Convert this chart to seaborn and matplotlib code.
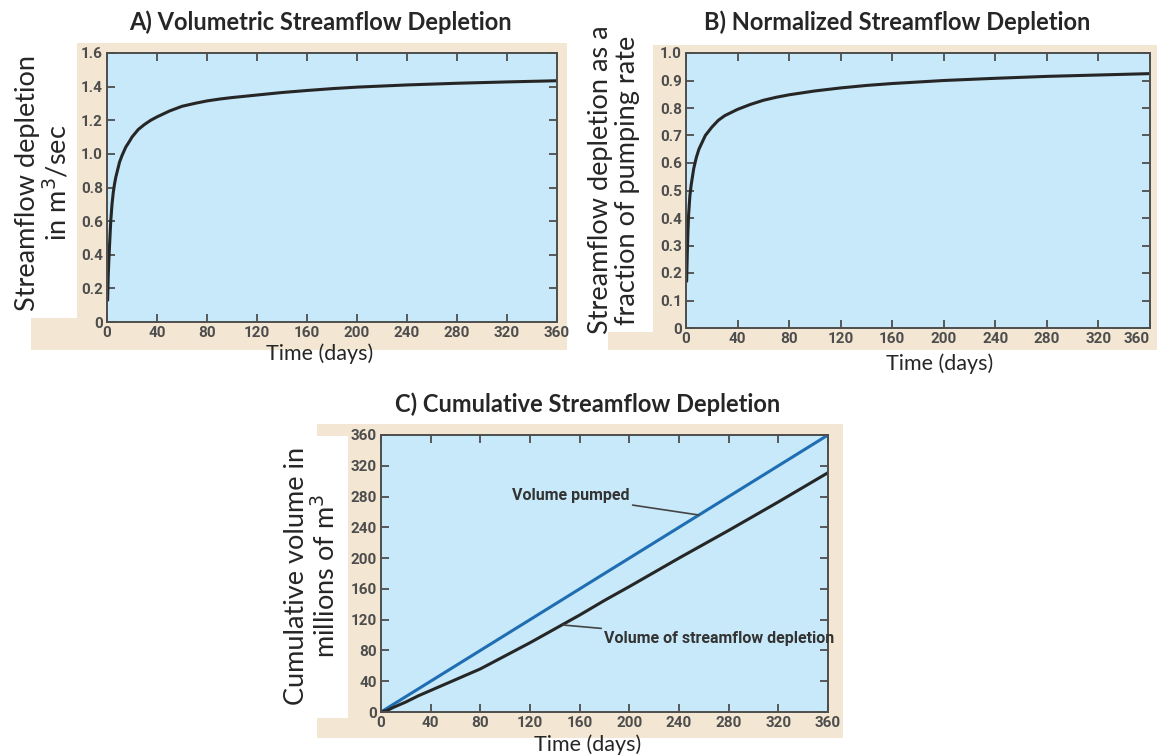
import numpy as np
import pandas as pd
import matplotlib
matplotlib.use('Agg')
import matplotlib.pyplot as plt
from matplotlib.patches import Rectangle
import seaborn as sns

# values
days_a = [0.5, 1, 1.5, 2, 3, 4, 5, 6, 7, 8, 10, 12, 15, 18, 20, 25, 30, 35, 40, 50, 60, 70,
          80, 90, 100, 120, 140, 160, 180, 200, 240, 280, 320, 360]
depletion_a = [0.13, 0.28, 0.37, 0.45, 0.6, 0.7, 0.77, 0.82, 0.86, 0.89, 0.95, 0.99, 1.04,
               1.075, 1.10, 1.145, 1.175, 1.20, 1.22, 1.255, 1.283, 1.30, 1.315, 1.326, 1.335,
               1.35, 1.365, 1.377, 1.388, 1.397, 1.41, 1.42, 1.428, 1.435]

days_b = [0.5, 1, 1.5, 2, 3, 4, 5, 6, 8, 10, 12, 15, 20, 25, 30, 40, 50, 60, 70, 80, 100,
          120, 140, 160, 200, 240, 280, 320, 360]
fraction_b = [0.17, 0.27, 0.35, 0.41, 0.48, 0.52, 0.55, 0.58, 0.62, 0.65, 0.67, 0.70, 0.73,
              0.755, 0.772, 0.795, 0.813, 0.828, 0.839, 0.848, 0.862, 0.873, 0.882, 0.889, 0.90,
              0.908, 0.915, 0.92, 0.925]

days_c = [0, 360]
pumped_c = [0, 360]
days_d = [0, 5, 10, 20, 30, 40, 50, 60, 70, 80, 100, 120, 140, 160, 180, 200, 240, 280,
          320, 360]
depleted_d = [0, 2, 6, 13, 21, 28, 35, 42, 49, 56, 73, 90, 108, 126, 145, 163, 200, 236,
              273, 311]

W, H = 1157, 755
BEIGE = '#f3e7d3'
BLUE_BG = '#c7e9f9'
TICK_COL = '#4d4d4d'
CURVE = '#262626'
BLUE = '#1f6db3'

sns.set_style('ticks')
plt.rcParams['font.family'] = ['Lato', 'DejaVu Sans']
TICK_FONT = ['Roboto', 'DejaVu Sans']

fig = plt.figure(figsize=(W / 100, H / 100), dpi=100)
fig.patch.set_facecolor('white')


def box(x0, y0, x1, y1, color):
    fig.patches.append(Rectangle((x0 / W, 1 - y1 / H), (x1 - x0) / W, (y1 - y0) / H,
                                 transform=fig.transFigure, facecolor=color,
                                 edgecolor='none', zorder=-10))


def add_ax(x0, y0, x1, y1):
    ax = fig.add_axes([x0 / W, 1 - y1 / H, (x1 - x0) / W, (y1 - y0) / H])
    ax.set_zorder(5)
    ax.set_facecolor(BLUE_BG)
    for s in ax.spines.values():
        s.set_color(TICK_COL)
        s.set_linewidth(1.4)
    ax.tick_params(direction='in', top=True, right=True, length=6, width=1.3,
                   color=TICK_COL, labelcolor=TICK_COL, pad=3)
    return ax


def style_ticks(ax):
    for lab in ax.get_xticklabels() + ax.get_yticklabels():
        lab.set_family(TICK_FONT)
        lab.set_fontweight('bold')
        lab.set_fontsize(11)


def ftext(x, y, s, **kw):
    fig.text(x / W, 1 - y / H, s, ha='center', va='center', **kw)


line_kw = dict(color=CURVE, lw=2.2, solid_joinstyle='round', solid_capstyle='round')

# backgrounds
box(31, 43, 567, 350, BEIGE)
box(0, 43, 77, 318, 'white')
box(608, 45, 1157, 350, BEIGE)
box(580, 30, 653, 332, 'white')
box(317, 424, 843, 738, BEIGE)
box(270, 436, 348, 718, 'white')

# A) volumetric depletion
ax_a = add_ax(107, 53, 557, 322)
df_a = pd.DataFrame({'day': days_a, 'q': depletion_a})
sns.lineplot(data=df_a, x='day', y='q', ax=ax_a, **line_kw)
ax_a.set_xlim(0, 360)
ax_a.set_ylim(0, 1.6)
ax_a.set_xticks(np.arange(0, 361, 40))
ax_a.set_yticks([0, 0.2, 0.4, 0.6, 0.8, 1.0, 1.2, 1.4, 1.6])
ax_a.set_yticklabels(['0', '0.2', '0.4', '0.6', '0.8', '1.0', '1.2', '1.4', '1.6'])
ax_a.set_xlabel('')
ax_a.set_ylabel('')
style_ticks(ax_a)

# B) normalized depletion
ax_b = add_ax(686, 53, 1150, 328)
df_b = pd.DataFrame({'day': days_b, 'f': fraction_b})
sns.lineplot(data=df_b, x='day', y='f', ax=ax_b, **line_kw)
ax_b.set_xlim(0, 360)
ax_b.set_ylim(0, 1.0)
ax_b.set_xticks(np.arange(0, 361, 40))
ax_b.set_yticks(np.arange(0, 1.01, 0.1))
ax_b.set_yticklabels(['0', '0.1', '0.2', '0.3', '0.4', '0.5', '0.6', '0.7', '0.8', '0.9', '1.0'])
ax_b.set_xlabel('')
ax_b.set_ylabel('')
style_ticks(ax_b)
ax_b.get_xticklabels()[-1].set_horizontalalignment('right')

# C) cumulative depletion
ax_c = add_ax(381, 435, 828, 712)
df_c = pd.DataFrame({'day': days_c, 'v': pumped_c})
df_d = pd.DataFrame({'day': days_d, 'v': depleted_d})
sns.lineplot(data=df_c, x='day', y='v', ax=ax_c, color=BLUE, lw=2.2)
sns.lineplot(data=df_d, x='day', y='v', ax=ax_c, **line_kw)
ax_c.set_xlim(0, 360)
ax_c.set_ylim(0, 360)
ax_c.set_xticks(np.arange(0, 361, 40))
ax_c.set_yticks(np.arange(0, 361, 40))
ax_c.set_xlabel('')
ax_c.set_ylabel('')
style_ticks(ax_c)

ann = dict(family=TICK_FONT, fontweight='bold', fontsize=11.5, color='#333333')
ax_c.annotate('Volume pumped', xy=(256, 256), xytext=(200, 281), ha='right', va='center',
              arrowprops=dict(arrowstyle='-', color='#444444', lw=1.2,
                              shrinkA=0, shrinkB=0), **ann)
ax_c.annotate('Volume of streamflow depletion', xy=(147, 113), xytext=(180, 95), ha='left',
              va='center', arrowprops=dict(arrowstyle='-', color='#444444', lw=1.2,
                                           shrinkA=0, shrinkB=0), **ann)

# titles and labels
ftext(320, 22, 'A) Volumetric Streamflow Depletion', fontsize=17, fontweight='bold')
ftext(897, 22, 'B) Normalized Streamflow Depletion', fontsize=17, fontweight='bold')
ftext(588, 404, 'C) Cumulative Streamflow Depletion', fontsize=17, fontweight='bold')

ftext(320, 354, 'Time (days)', fontsize=15.5)
ftext(940, 364, 'Time (days)', fontsize=15.5)
ftext(588, 745, 'Time (days)', fontsize=15.5)

ftext(43, 183, 'Streamflow depletion\nin m$^3$/sec', fontsize=19.5, rotation=90,
      linespacing=1.1)
ftext(614, 180, 'Streamflow depletion as a\nfraction of pumping rate', fontsize=19.5,
      rotation=90, linespacing=1.1)
ftext(312, 576, 'Cumulative volume in\nmillions of m$^3$', fontsize=19.5, rotation=90,
      linespacing=1.1)

fig.savefig('out.png', dpi=100)
